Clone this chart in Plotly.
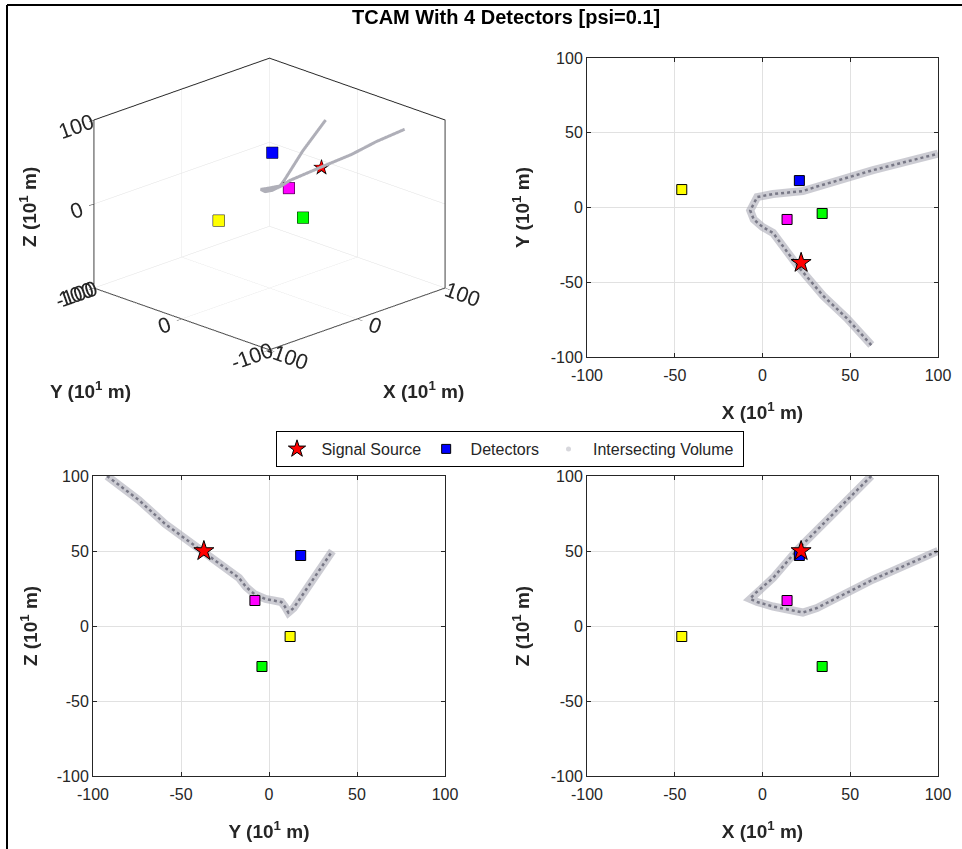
import plotly.graph_objects as go

# ---------------- data ----------------
src_x = [22]
src_y = [-37]
src_z = [50]

det_x = [-46, 21, 14, 34]
det_y = [12, 18, -8, -4]
det_z = [-7, 47, 17, -27]
det_colors = ['#ffff00', '#0000ff', '#ff00ff', '#00ff00']

vol_x = [62, 48, 34.5, 20, 6, 0, -5, -7, -3, 6, 23, 31, 63, 100]
vol_y = [-92, -74, -59, -39, -17, -13, -8, -2, 7, 9, 11, 14, 25, 36]
vol_z = [100, 84, 68, 51, 32, 26, 21, 18, 16, 13, 9, 12, 31, 50]

tick_vals_2d = [-100, -50, 0, 50, 100]
tick_text_2d = ['-100', '-50', '0', '50', '100']
tick_vals_3d = [-100, 0, 100]
tick_text_3d = ['-100', '0', '100']

# ---------------- style ----------------
W, H = 962, 849
FONT = 'Liberation Sans, Arial, Helvetica, sans-serif'
TXT = 'rgb(38,38,38)'
GRID = 'rgb(225,225,225)'
BAND_OUT = 'rgba(170,170,182,0.6)'
BAND_IN = 'rgba(105,105,120,0.85)'


def px_x(p):
    return p / W


def px_y(p):
    return 1 - p / H


fig = go.Figure()


def add2d(a, b, sa, sb, da, db, xa, ya):
    fig.add_trace(go.Scatter(x=a, y=b, mode='lines', xaxis=xa, yaxis=ya,
                             line=dict(color=BAND_OUT, width=8),
                             showlegend=False, hoverinfo='skip'))
    fig.add_trace(go.Scatter(x=a, y=b, mode='lines', xaxis=xa, yaxis=ya,
                             line=dict(color=BAND_IN, width=2.5, dash='dot'),
                             showlegend=False, hoverinfo='skip'))
    fig.add_trace(go.Scatter(x=da, y=db, mode='markers', xaxis=xa, yaxis=ya,
                             marker=dict(symbol='square', size=10, color=det_colors,
                                         line=dict(color='black', width=1)),
                             showlegend=False))
    fig.add_trace(go.Scatter(x=sa, y=sb, mode='markers', xaxis=xa, yaxis=ya,
                             marker=dict(symbol='star', size=15, color='red',
                                         line=dict(color='black', width=1)),
                             showlegend=False))


# XY (top right)
add2d(vol_x, vol_y, src_x, src_y, det_x, det_y, 'x', 'y')
# YZ (bottom left)
add2d(vol_y, vol_z, src_y, src_z, det_y, det_z, 'x2', 'y2')
# XZ (bottom right)
add2d(vol_x, vol_z, src_x, src_z, det_x, det_z, 'x3', 'y3')

# legend entries
NB = '\u00a0'
fig.add_trace(go.Scatter(x=[None], y=[None], mode='markers', name=NB + 'Signal Source',
                         marker=dict(symbol='star', size=13, color='red',
                                     line=dict(color='black', width=1))))
fig.add_trace(go.Scatter(x=[None], y=[None], mode='markers', name=NB + 'Detectors' + NB,
                         marker=dict(symbol='square', size=9, color='#0000ff',
                                     line=dict(color='black', width=1))))
fig.add_trace(go.Scatter(x=[None], y=[None], mode='markers', name=NB + 'Intersecting Volume' + NB,
                         marker=dict(symbol='circle', size=5, color='rgb(215,215,220)')))

# 3D
fig.add_trace(go.Scatter3d(x=vol_x, y=vol_y, z=vol_z, mode='lines',
                           line=dict(color='rgb(175,175,184)', width=6),
                           showlegend=False, hoverinfo='skip'))
fig.add_trace(go.Scatter3d(x=det_x, y=det_y, z=det_z, mode='markers',
                           marker=dict(symbol='square', size=6, color=det_colors,
                                       line=dict(color='black', width=1)),
                           showlegend=False))
fig.add_trace(go.Scatter3d(x=src_x, y=src_y, z=src_z, mode='text', text=['★'],
                           textposition='middle center',
                           textfont=dict(size=22, color='black'),
                           showlegend=False, hoverinfo='skip'))
fig.add_trace(go.Scatter3d(x=src_x, y=src_y, z=src_z, mode='text', text=['★'],
                           textposition='middle center',
                           textfont=dict(size=17, color='red'),
                           showlegend=False, hoverinfo='skip'))

ax2d = dict(range=[-100, 100], tickvals=tick_vals_2d, ticktext=tick_text_2d,
            showgrid=True, gridcolor=GRID,
            zeroline=False, showline=True, linecolor=TXT, linewidth=1, mirror='ticks',
            ticks='inside', ticklen=4, tickcolor=TXT, automargin=False,
            tickfont=dict(family=FONT, size=16, color=TXT), fixedrange=True)


def title_txt(c):
    return '<b>%s (10<sup>1</sup> m)</b>' % c


TF = dict(family=FONT, size=19, color=TXT)

x_right = [px_x(587), px_x(938)]
x_left = [px_x(93), px_x(445)]
y_top = [px_y(357), px_y(58)]
y_bot = [px_y(776), px_y(476)]

ax3d = dict(range=[-100, 100], tickvals=tick_vals_3d, ticktext=tick_text_3d,
            showbackground=False, gridcolor=GRID, gridwidth=1, zeroline=False,
            showline=True, mirror=True, ticks='outside', ticklen=7, tickcolor=TXT,
            linecolor=TXT, linewidth=2, showspikes=False, title=dict(text=''),
            tickfont=dict(family=FONT, size=16, color=TXT))

fig.update_layout(
    width=W, height=H, margin=dict(l=0, r=0, t=0, b=0, pad=0, autoexpand=False),
    paper_bgcolor='white', plot_bgcolor='white',
    font=dict(family=FONT, color=TXT),
    xaxis=dict(ax2d, domain=x_right, anchor='y', ticklabelstandoff=4,
               title=dict(text=title_txt('X'), font=TF, standoff=22)),
    yaxis=dict(ax2d, domain=y_top, anchor='x',
               title=dict(text=title_txt('Y'), font=TF, standoff=16)),
    xaxis2=dict(ax2d, domain=x_left, anchor='y2', ticklabelstandoff=4,
                title=dict(text=title_txt('Y'), font=TF, standoff=22)),
    yaxis2=dict(ax2d, domain=y_bot, anchor='x2',
                title=dict(text=title_txt('Z'), font=TF, standoff=14)),
    xaxis3=dict(ax2d, domain=x_right, anchor='y3', ticklabelstandoff=4,
                title=dict(text=title_txt('X'), font=TF, standoff=22)),
    yaxis3=dict(ax2d, domain=y_bot, anchor='x3',
                title=dict(text=title_txt('Z'), font=TF, standoff=16)),
    scene=dict(domain=dict(x=[0.0, 0.56], y=[0.535, 0.985]),
               xaxis=ax3d, yaxis=ax3d, zaxis=ax3d,
               aspectmode='manual', aspectratio=dict(x=1.3, y=1.3, z=0.94),
               camera=dict(eye=dict(x=-0.94, y=-0.94, z=0.50),
                           up=dict(x=0, y=0, z=1), center=dict(x=0, y=0, z=0),
                           projection=dict(type='orthographic'))),
    legend=dict(orientation='h', x=px_x(510), y=px_y(431), xanchor='center', yanchor='top',
                bordercolor='black', borderwidth=1, bgcolor='white',
                font=dict(family=FONT, size=16, color=TXT)),
    showlegend=True,
)

annotations = [
    dict(text='<b>TCAM With 4 Detectors [psi=0.1]</b>', x=px_x(506), y=px_y(17),
         xanchor='center', yanchor='middle',
         xref='paper', yref='paper', showarrow=False, font=dict(family=FONT, size=20, color='black')),
    dict(text=title_txt('Y'), x=px_x(90), y=px_y(390), xref='paper', yref='paper',
         xanchor='center', yanchor='middle', showarrow=False, font=TF),
    dict(text=title_txt('X'), x=px_x(423), y=px_y(390), xref='paper', yref='paper',
         xanchor='center', yanchor='middle', showarrow=False, font=TF),
    dict(text=title_txt('Z'), x=px_x(28), y=px_y(207), xref='paper', yref='paper',
         xanchor='center', yanchor='middle', showarrow=False, textangle=-90, font=TF),
]
fig.update_layout(annotations=annotations)

fig.update_layout(shapes=[
    dict(type='line', xref='paper', yref='paper', x0=px_x(7), x1=1.0, y0=px_y(5), y1=px_y(5),
         line=dict(color='black', width=2)),
    dict(type='line', xref='paper', yref='paper', x0=px_x(7), x1=px_x(7), y0=px_y(5), y1=0,
         line=dict(color='black', width=2)),
])

fig.write_html('out.html')
